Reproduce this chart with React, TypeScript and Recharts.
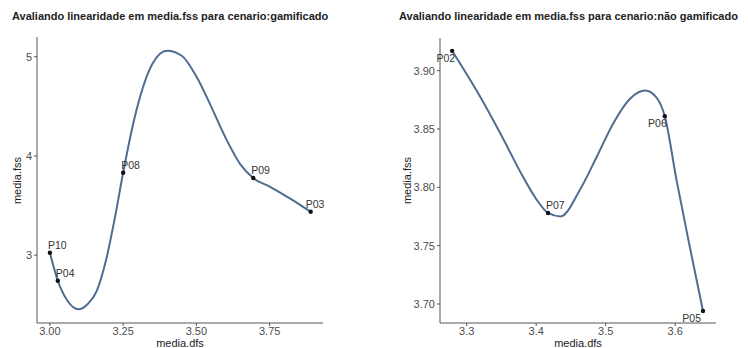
import React from "react";
import { ComposedChart, Line, Scatter, XAxis, YAxis } from "recharts";

// cenario: gamificado
const gamPoints = [
  { name: "P10", x: 3.0, y: 3.024 },
  { name: "P04", x: 3.027, y: 2.742 },
  { name: "P08", x: 3.25, y: 3.83 },
  { name: "P09", x: 3.694, y: 3.777 },
  { name: "P03", x: 3.89, y: 3.437 },
];
// fitted curve
const gamCurveX = [3.0, 3.027, 3.06, 3.097, 3.13, 3.16, 3.19, 3.22, 3.25, 3.28, 3.31, 3.35, 3.4, 3.45, 3.5, 3.55, 3.6, 3.65, 3.694, 3.75, 3.8, 3.85, 3.89];
const gamCurveY = [3.024, 2.742, 2.54, 2.454, 2.51, 2.64, 2.93, 3.35, 3.83, 4.27, 4.62, 4.93, 5.06, 5.01, 4.8, 4.5, 4.18, 3.915, 3.777, 3.69, 3.605, 3.515, 3.437];
const gamXTicks = [3.0, 3.25, 3.5, 3.75];
const gamYTicks = [3, 4, 5];

// cenario: não gamificado
const naoPoints = [
  { name: "P02", x: 3.279, y: 3.917 },
  { name: "P07", x: 3.417, y: 3.778 },
  { name: "P06", x: 3.585, y: 3.861 },
  { name: "P05", x: 3.64, y: 3.694 },
];
const naoCurveX = [3.279, 3.319, 3.353, 3.381, 3.4, 3.417, 3.435, 3.463, 3.487, 3.511, 3.535, 3.557, 3.573, 3.585, 3.602, 3.621, 3.64];
const naoCurveY = [3.917, 3.878, 3.841, 3.809, 3.79, 3.778, 3.775, 3.798, 3.826, 3.855, 3.876, 3.883, 3.877, 3.861, 3.806, 3.749, 3.694];
const naoXTicks = [3.3, 3.4, 3.5, 3.6];
const naoYTicks = [3.7, 3.75, 3.8, 3.85, 3.9];

// where each point label sits relative to its dot
const labelPlacement: Record<string, { dx: number; dy: number; anchor: string }> = {
  P10: { dx: -2, dy: -7, anchor: "start" },
  P04: { dx: -2, dy: -7, anchor: "start" },
  P08: { dx: -2, dy: -7, anchor: "start" },
  P09: { dx: -2, dy: -7, anchor: "start" },
  P03: { dx: -5, dy: -7, anchor: "start" },
  P02: { dx: 3, dy: 8, anchor: "end" },
  P07: { dx: -2, dy: -7, anchor: "start" },
  P06: { dx: 2, dy: 8, anchor: "end" },
  P05: { dx: -2, dy: 8, anchor: "end" },
};

const FONT = "'Liberation Sans', Arial, sans-serif";
const CURVE = "#4e6d90";
const AXIS = "#555";

const zip = (xs: number[], ys: number[]) => xs.map((x, i) => ({ x, y: ys[i] }));

const PointShape = (props: any) => {
  const { cx, cy, payload } = props;
  const p = labelPlacement[payload.name];
  return (
    <g>
      <circle cx={cx} cy={cy} r={2.2} fill="#111" />
      <text
        x={cx + p.dx}
        y={cy + p.dy}
        textAnchor={p.anchor as any}
        dominantBaseline="middle"
        fontSize={10.5}
        fill="#333"
        fontFamily={FONT}
      >
        {payload.name}
      </text>
    </g>
  );
};

function Panel({
  left,
  title,
  points,
  curve,
  xDomain,
  yDomain,
  xTicks,
  yTicks,
  xFmt,
  yFmt,
  margin,
  yWidth,
  titleX,
  yLabelX,
}: any) {
  return (
    <div style={{ position: "absolute", left, top: 0, width: 374, height: 348 }}>
      <div
        style={{
          position: "absolute",
          left: titleX,
          top: 10,
          fontSize: 11,
          fontWeight: "bold",
          lineHeight: "13px",
          fontFamily: FONT,
          color: "#222",
          whiteSpace: "nowrap",
        }}
      >
        {title}
      </div>
      <ComposedChart width={374} height={348} margin={margin}>
        <XAxis
          type="number"
          dataKey="x"
          domain={xDomain}
          ticks={xTicks}
          tickFormatter={xFmt}
          height={25}
          stroke={AXIS}
          tickSize={3}
          tickMargin={1}
          tick={{ fill: "#4d4d4d", fontSize: 11, fontFamily: FONT }}
        />
        <YAxis
          type="number"
          dataKey="y"
          domain={yDomain}
          ticks={yTicks}
          tickFormatter={yFmt}
          width={yWidth}
          stroke={AXIS}
          tickSize={3}
          tickMargin={2}
          tick={{ fill: "#4d4d4d", fontSize: 11, fontFamily: FONT }}
        />
        <Line
          data={curve}
          dataKey="y"
          type="monotoneX"
          stroke={CURVE}
          strokeWidth={2}
          dot={false}
          isAnimationActive={false}
        />
        <Scatter data={points} dataKey="y" shape={PointShape} isAnimationActive={false} />
      </ComposedChart>
      <div
        style={{
          position: "absolute",
          left: yLabelX - 30,
          top: 175,
          width: 60,
          lineHeight: "11px",
          textAlign: "center",
          transform: "rotate(-90deg)",
          fontSize: 11,
          fontFamily: FONT,
          color: "#222",
        }}
      >
        media.fss
      </div>
      <div
        style={{
          position: "absolute",
          left: margin.left + yWidth,
          width: 374 - margin.left - yWidth - margin.right,
          top: 338,
          lineHeight: "10px",
          textAlign: "center",
          fontSize: 11,
          fontFamily: FONT,
          color: "#222",
        }}
      >
        media.dfs
      </div>
    </div>
  );
}

export default function App() {
  return (
    <div style={{ position: "absolute", left: 0, top: 0, width: 748, height: 348, background: "#fff" }}>
      <Panel
        left={0}
        title="Avaliando linearidade em media.fss para cenario:gamificado"
        points={gamPoints}
        curve={zip(gamCurveX, gamCurveY)}
        xDomain={[2.956, 3.932]}
        yDomain={[2.316, 5.199]}
        xTicks={gamXTicks}
        yTicks={gamYTicks}
        xFmt={(v: number) => v.toFixed(2)}
        yFmt={(v: number) => String(v)}
        margin={{ top: 37, right: 51, left: 0, bottom: 0 }}
        yWidth={37}
        titleX={12}
        yLabelX={17}
      />
      <Panel
        left={374}
        title="Avaliando linearidade em media.fss para cenario:não gamificado"
        points={naoPoints}
        curve={zip(naoCurveX, naoCurveY)}
        xDomain={[3.2616, 3.6587]}
        yDomain={[3.6837, 3.928]}
        xTicks={naoXTicks}
        yTicks={naoYTicks}
        xFmt={(v: number) => v.toFixed(1)}
        yFmt={(v: number) => v.toFixed(2)}
        margin={{ top: 38, right: 32, left: 0, bottom: 0 }}
        yWidth={66}
        titleX={25}
        yLabelX={33}
      />
    </div>
  );
}
